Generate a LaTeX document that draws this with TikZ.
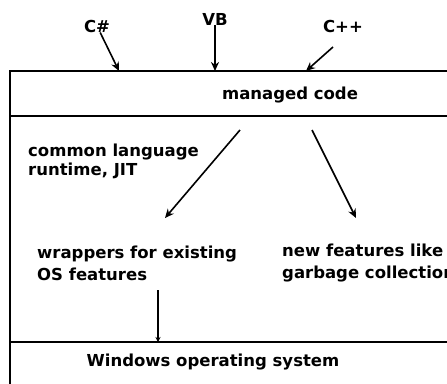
\documentclass[tikz,border=0pt]{standalone}
\usepackage{fontspec}
\setmainfont{DejaVu Sans}
\usetikzlibrary{arrows.meta}
\tikzstyle{arrow} = [line width=1.6pt, -{Stealth[length=9pt,width=8pt]}]

\begin{document}
\begin{tikzpicture}[
  x=1pt, y=-1pt,
  lbl/.style={inner sep=0pt, font=\bfseries\fontsize{16.5}{19}\selectfont},
  para/.style={lbl, align=left, anchor=west},
  boxline/.style={line width=2pt}
]
\useasboundingbox (0,0) rectangle (447,383);

% layers
\draw[boxline] (10,384) -- (10,71) -- (449,71);
\draw[boxline] (10,116) -- (449,116);
\draw[boxline] (10,342) -- (449,342);

% languages
\node[lbl] (csharp) at (97,26) {C\#};
\node[lbl] (vb) at (215,19) {VB};
\node[lbl] (cpp) at (343,26) {C++};
\coordinate (csharpin) at (119,71);
\coordinate (vbin) at (215,71);
\coordinate (cppin) at (306,71);
\coordinate (cpptail) at (333,47);
\draw[arrow] (csharp) -- (csharpin);
\draw[arrow] (vb) -- (vbin);
\draw[arrow] (cpptail) -- (cppin);

\node[lbl] (managed) at (290,95) {managed code};

\node[para] (clr) at (28,161) {common language\\runtime, JIT};
\node[para, font=\bfseries\fontsize{16.5}{22}\selectfont] (wrap) at (37,263) {wrappers for existing\\OS features};
\node[para, font=\bfseries\fontsize{16.5}{22}\selectfont] (newfeat) at (282,263) {new features like\\garbage collection};

\coordinate (lefttail) at (240,130);
\coordinate (lefthead) at (165,218);
\coordinate (righttail) at (312,130);
\coordinate (righthead) at (356,218);
\draw[arrow] (lefttail) -- (lefthead);
\draw[arrow] (righttail) -- (righthead);

\coordinate (ostail) at (158,290);
\coordinate (oshead) at (158,342);
\draw[line width=1.6pt, -{Stealth[length=5pt,width=5pt]}] (ostail) -- (oshead);

\node[lbl] (windows) at (213,362) {Windows operating system};
\end{tikzpicture}
\end{document}
